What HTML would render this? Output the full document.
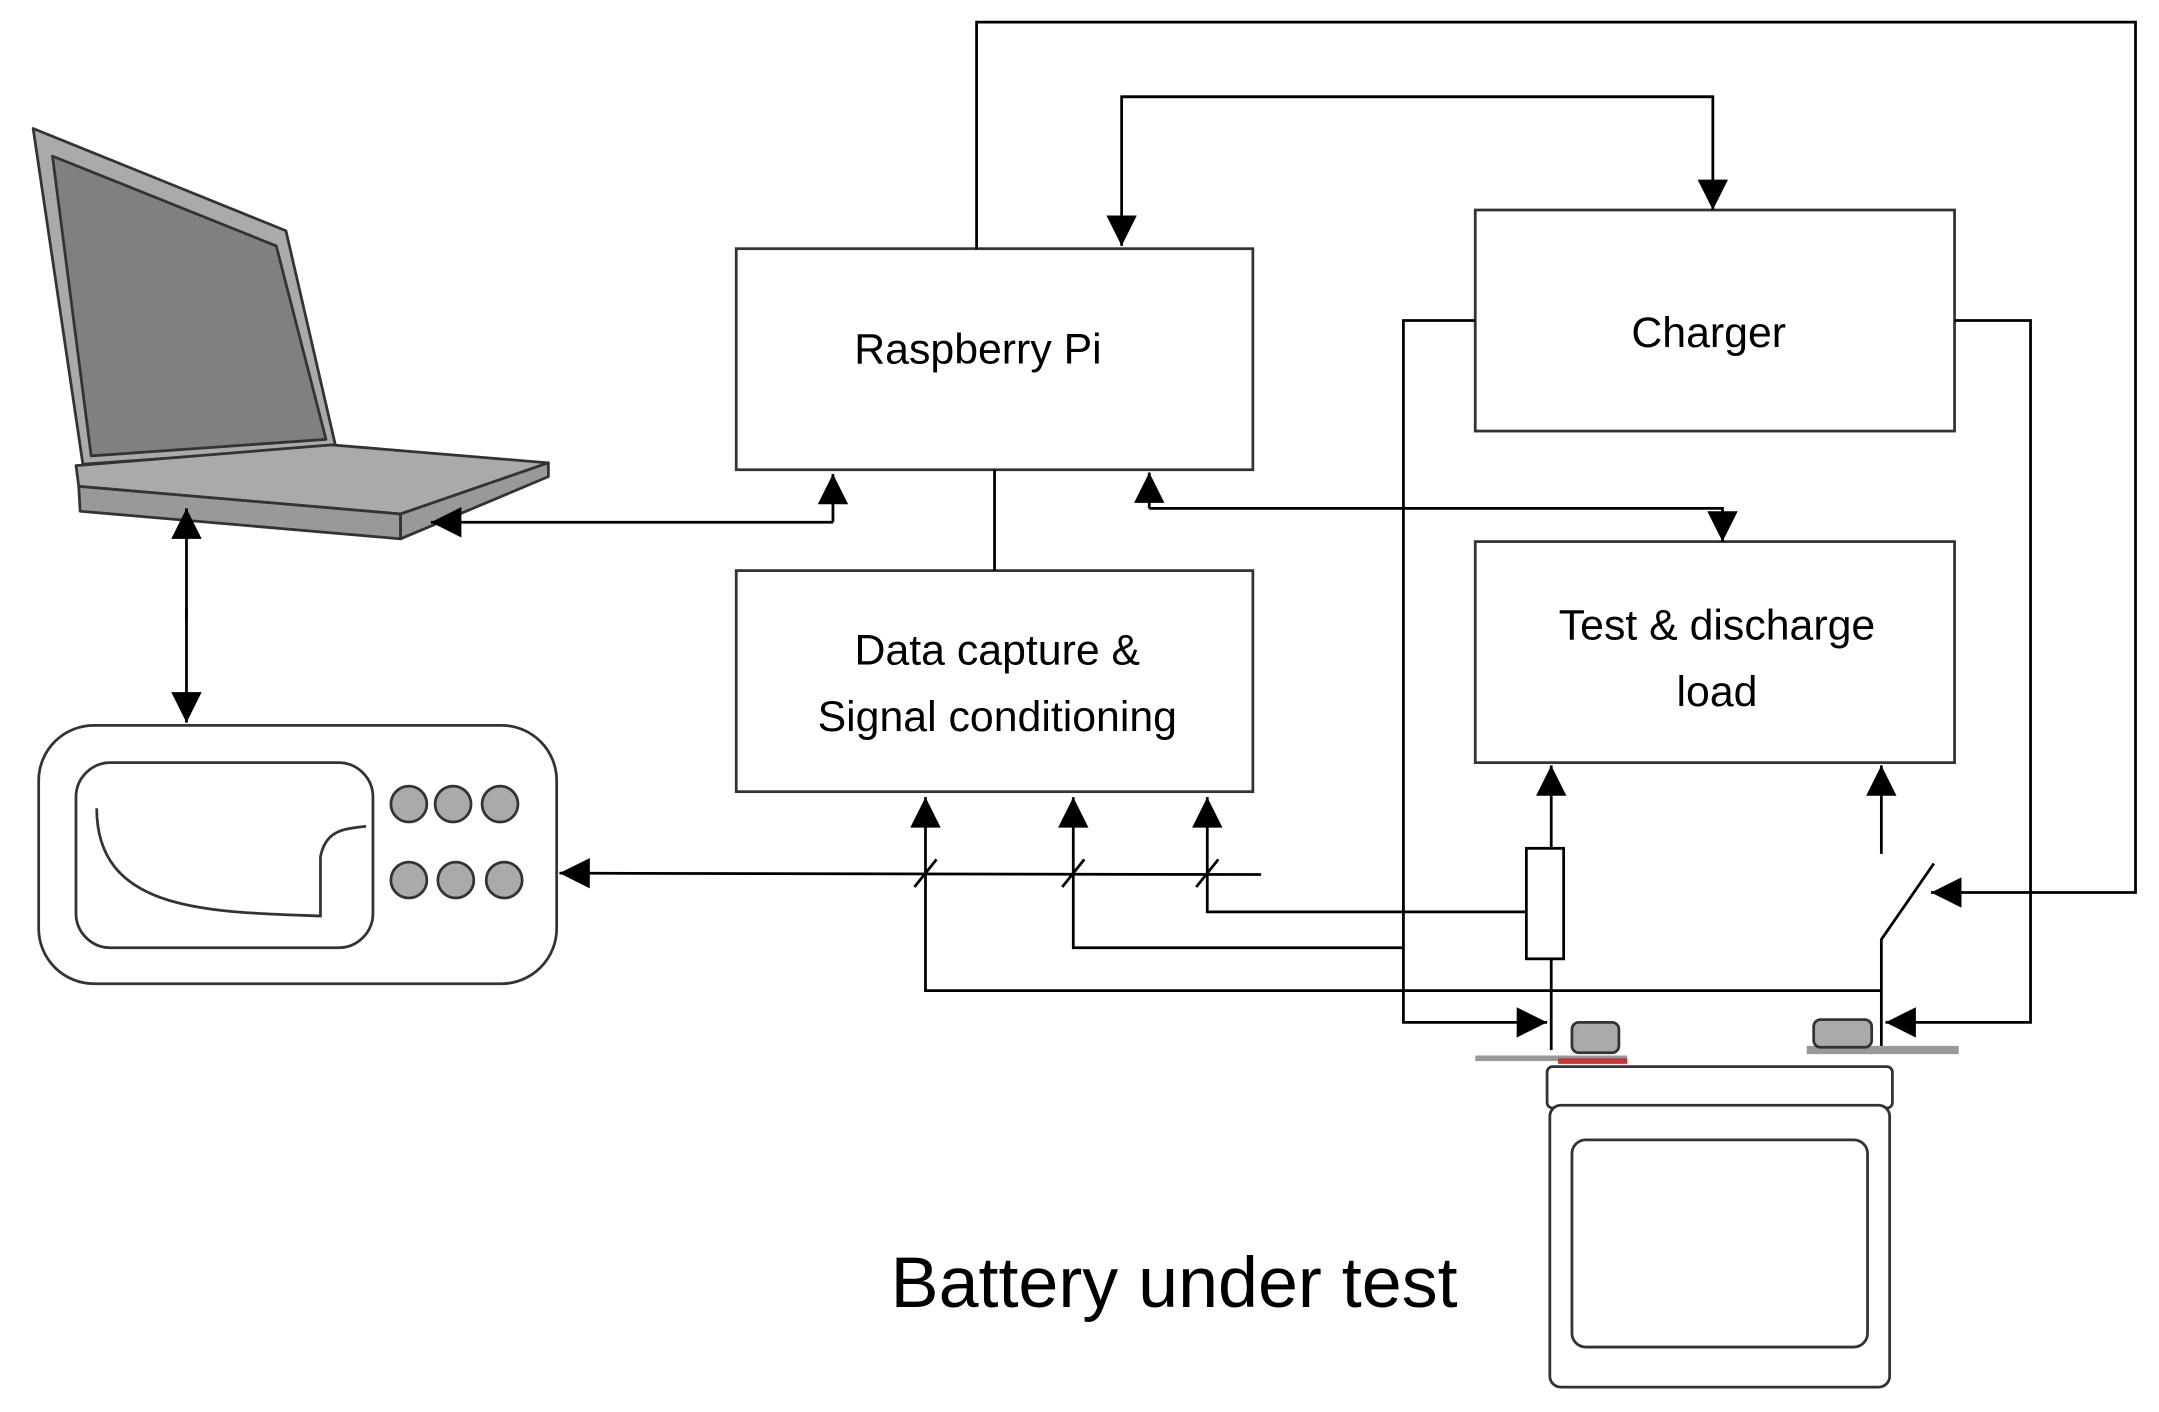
<!DOCTYPE html>
<html><head><meta charset="utf-8"><style>html,body{margin:0;padding:0;background:#fff}svg{display:block}</style></head>
<body>
<svg width="2159" height="1412" viewBox="0 0 1563 1022" preserveAspectRatio="none" xmlns="http://www.w3.org/2000/svg">
<defs>
<marker id="a" viewBox="0 0 10 10" refX="10" refY="5" markerWidth="24" markerHeight="22" markerUnits="userSpaceOnUse" orient="auto"><path d="M0,0L10,5L0,10z"/></marker>
</defs>
<!-- laptop -->
<g stroke="#333" stroke-width="2" stroke-linejoin="round">
<polygon points="24,93 207,167 243,323 60,336" fill="#aaa"/>
<polygon points="38,113 200,178 236,318 66,330" fill="#808080"/>
<polygon points="55,337 240,322 397,335 290,372 57,352" fill="#aaa"/>
<polygon points="57,352 290,372 290,390 58,370" fill="#999"/>
<polygon points="290,372 397,335 397,345 290,390" fill="#999"/>
</g>
<!-- oscilloscope -->
<rect x="28" y="525" width="375" height="187" rx="40" fill="#fff" stroke="#333" stroke-width="2"/>
<rect x="55" y="552" width="215" height="134" rx="25" fill="#fff" stroke="#333" stroke-width="2"/>
<path d="M70,585C70,660 150,660 232,663L232,620C236,600 250,600 265,598" fill="none" stroke="#333" stroke-width="2"/>
<g fill="#aaa" stroke="#333" stroke-width="2">
<circle cx="296" cy="582" r="13"/><circle cx="328" cy="582" r="13"/><circle cx="362" cy="582" r="13"/>
<circle cx="296" cy="637" r="13"/><circle cx="330" cy="637" r="13"/><circle cx="365" cy="637" r="13"/>
</g>
<g font-family="Liberation Sans, sans-serif" fill="#000" font-size="31" text-anchor="middle">
<g fill="#fff" stroke="#333" stroke-width="2">
<rect x="533" y="180" width="374" height="160"/>
<rect x="533" y="413" width="374" height="160"/>
<rect x="1068" y="152" width="347" height="160"/>
<rect x="1068" y="392" width="347" height="160"/>
</g>
<text x="708" y="263">Raspberry Pi</text>
<text x="722" y="481">Data capture &amp;</text>
<text x="722" y="529">Signal conditioning</text>
<text x="1237" y="251">Charger</text>
<text x="1243" y="463">Test &amp; discharge</text>
<text x="1243" y="511">load</text>
<text x="850" y="946" font-size="52">Battery under test</text>
</g>
<g fill="none" stroke="#000" stroke-width="2">
<line x1="720" y1="340" x2="720" y2="413"/>
<path d="M707,180V16H1546V646H1398" marker-end="url(#a)"/>
<path d="M1240,70H812V178" marker-end="url(#a)"/>
<path d="M812,70H1240V152" marker-end="url(#a)"/>
<path d="M603,378V343" marker-end="url(#a)"/>
<path d="M603,378H312" marker-end="url(#a)"/>
<path d="M832,368V342" marker-end="url(#a)"/>
<path d="M832,368H1247V392" marker-end="url(#a)"/>
<path d="M135,450V368" marker-end="url(#a)"/>
<path d="M135,440V523" marker-end="url(#a)"/>
<path d="M913,633L405,632" marker-end="url(#a)"/>
<path d="M1362,717H670V577" marker-end="url(#a)"/>
<path d="M1015,686H777V577" marker-end="url(#a)"/>
<path d="M1105,660H874V577" marker-end="url(#a)"/>
<line x1="662" y1="642" x2="678" y2="622"/>
<line x1="769" y1="642" x2="785" y2="622"/>
<line x1="866" y1="642" x2="882" y2="622"/>
<path d="M1123,614V554" marker-end="url(#a)"/>
<line x1="1123" y1="694" x2="1123" y2="760"/>
<rect x="1105" y="614" width="27" height="80" fill="#fff"/>
<path d="M1068,232H1016V740H1120" marker-end="url(#a)"/>
<path d="M1415,232H1470V740H1365" marker-end="url(#a)"/>
<path d="M1362,760V680L1400,625"/>
<path d="M1362,618V554" marker-end="url(#a)"/>
</g>
<!-- terminals -->
<line x1="1068" y1="766" x2="1178" y2="766" stroke="#999" stroke-width="4"/>
<line x1="1128" y1="768" x2="1178" y2="768" stroke="#c33" stroke-width="4"/>
<rect x="1138" y="740" width="34" height="22" rx="5" fill="#aaa" stroke="#333" stroke-width="2"/>
<line x1="1308" y1="760" x2="1418" y2="760" stroke="#999" stroke-width="6"/>
<rect x="1313" y="738" width="42" height="20" rx="5" fill="#aaa" stroke="#333" stroke-width="2"/>
<!-- battery -->
<rect x="1120" y="772" width="250" height="30" rx="4" fill="#fff" stroke="#333" stroke-width="2"/>
<rect x="1122" y="800" width="246" height="204" rx="8" fill="#fff" stroke="#333" stroke-width="2"/>
<rect x="1138" y="825" width="214" height="150" rx="10" fill="#fff" stroke="#333" stroke-width="2"/>
</svg>
</body></html>
